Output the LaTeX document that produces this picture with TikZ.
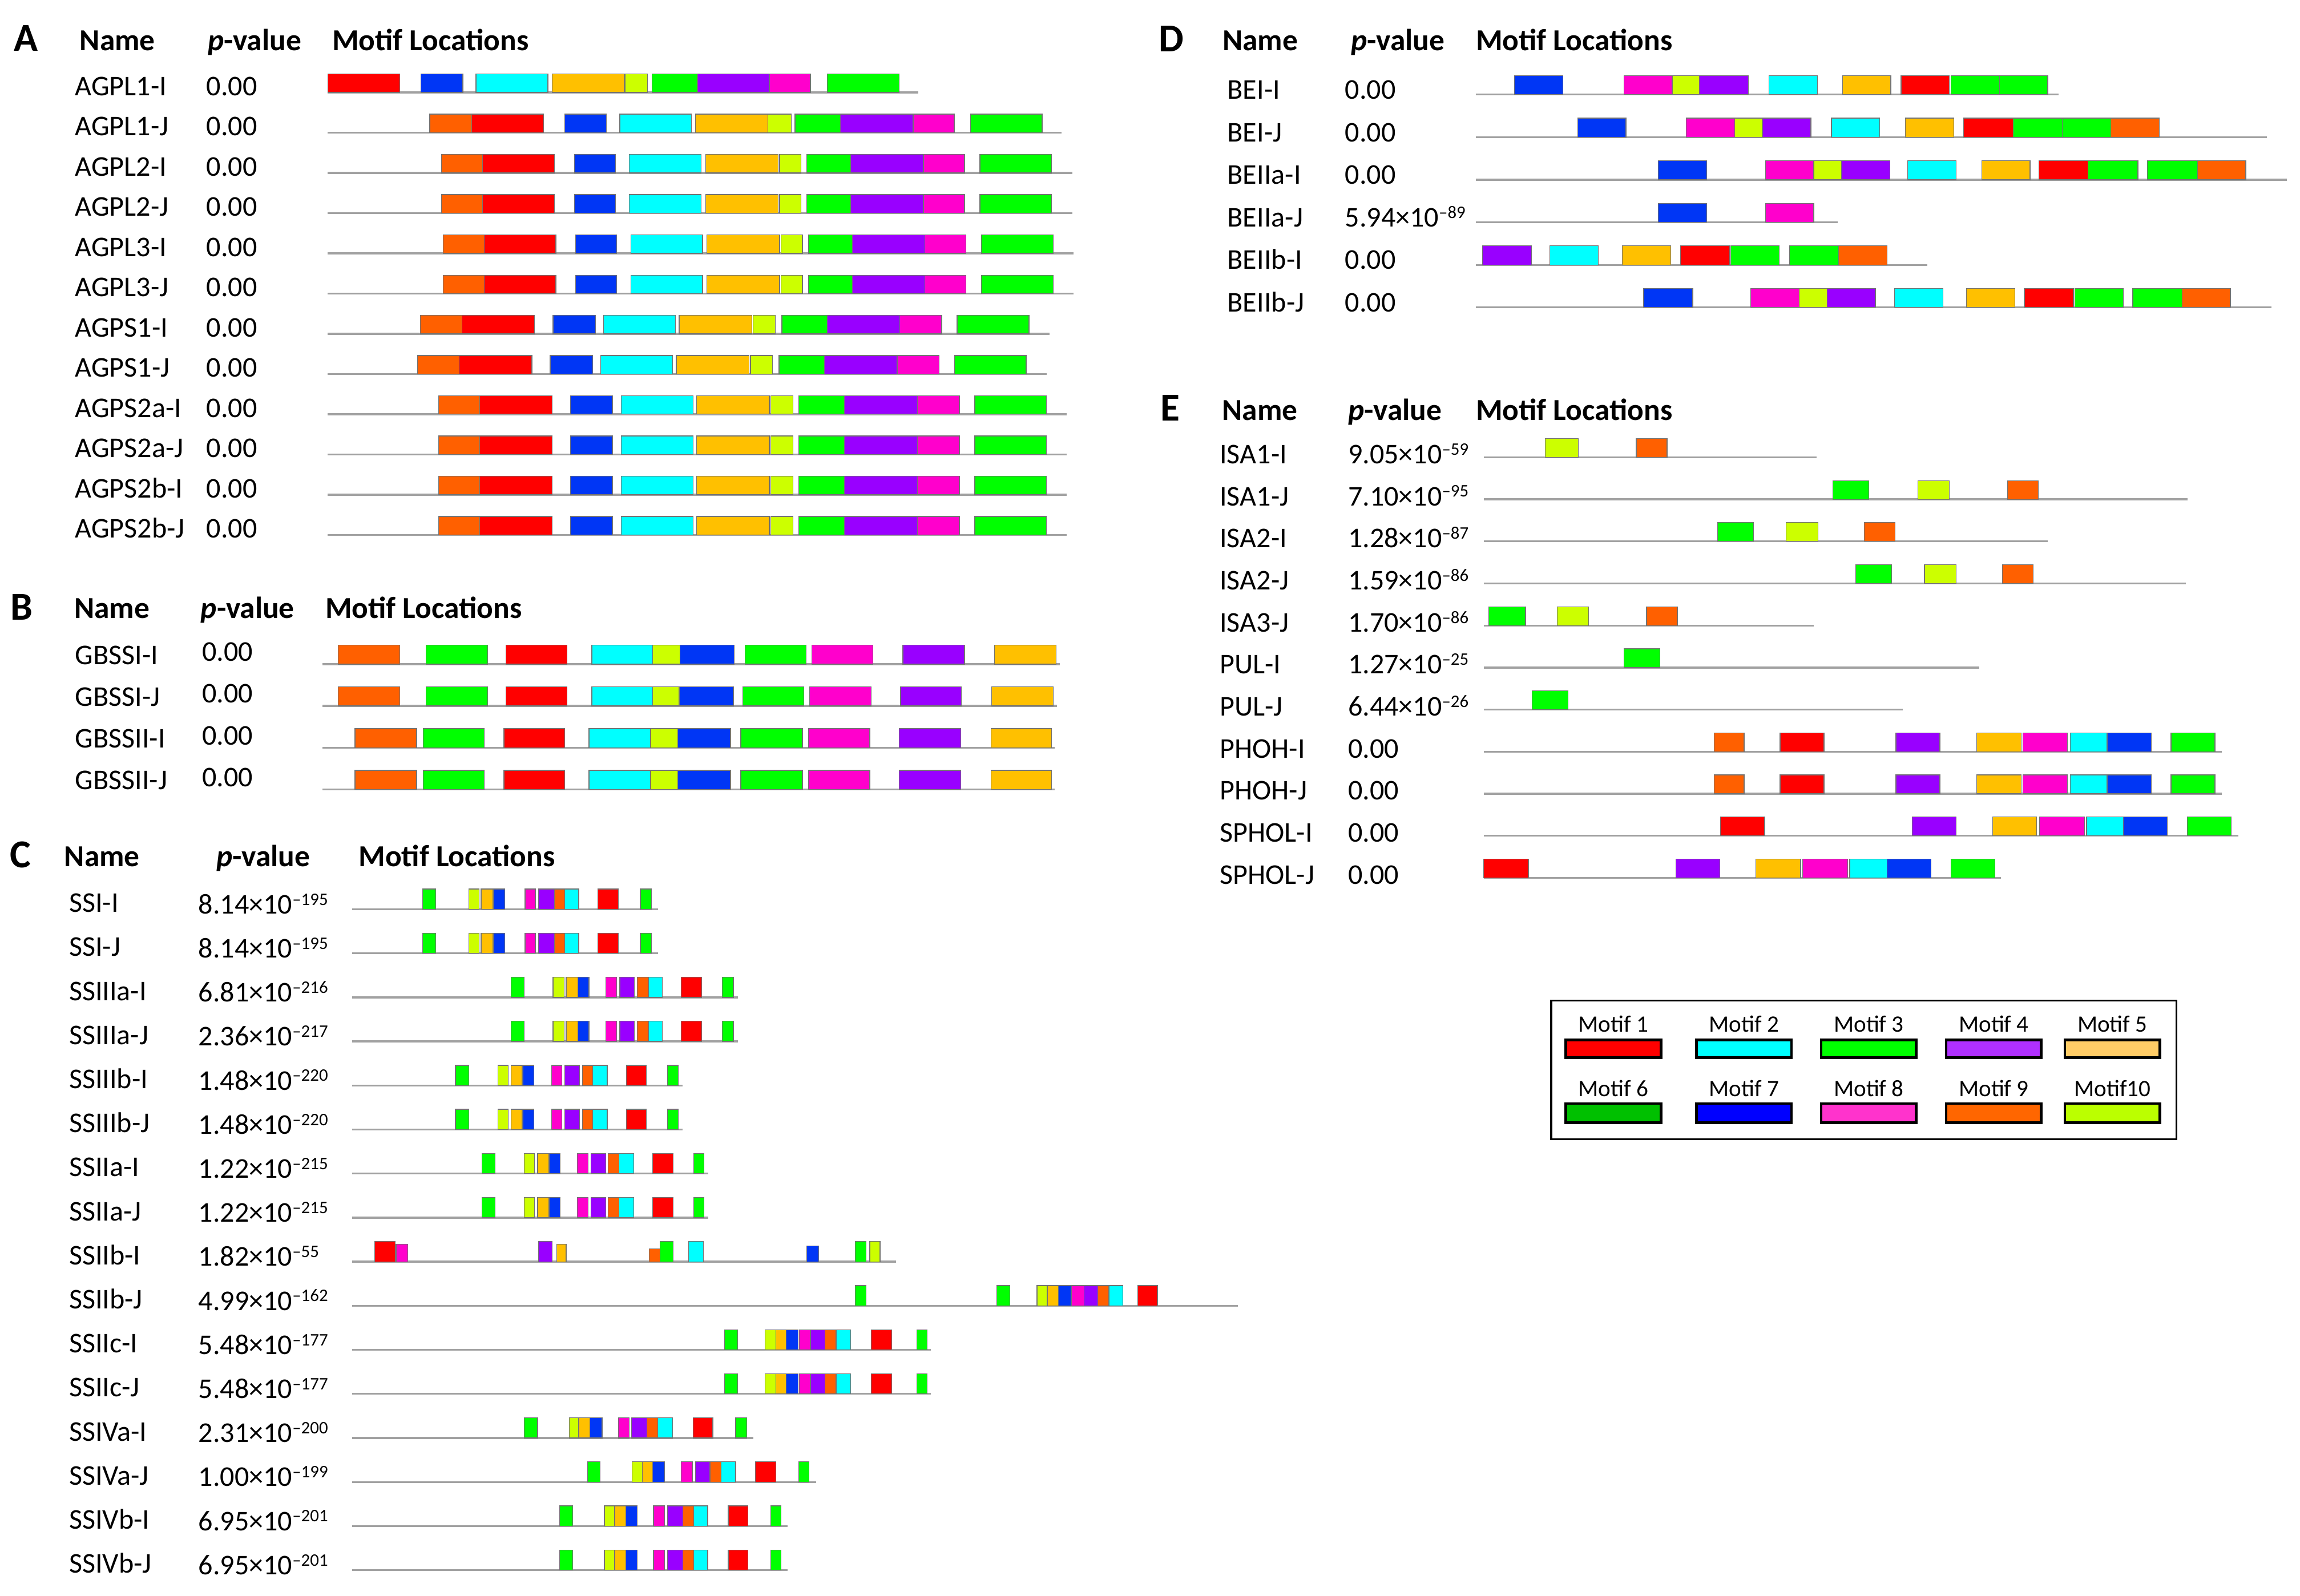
\documentclass[tikz,border=0pt]{standalone}
\usepackage{fontspec}
\setmainfont{Carlito}
\usetikzlibrary{positioning}
% motif colours of the sequence blocks
\definecolor{b1}{HTML}{FF0000}
\definecolor{b2}{HTML}{00FFFF}
\definecolor{b3}{HTML}{00FF00}
\definecolor{b4}{HTML}{9900FF}
\definecolor{b5}{HTML}{FFC000}
\definecolor{b7}{HTML}{0036F5}
\definecolor{b8}{HTML}{FF00CC}
\definecolor{b9}{HTML}{FF6000}
\definecolor{b10}{HTML}{CCFF00}
% motif colours of the key
\definecolor{l1}{HTML}{FF0000}
\definecolor{l2}{HTML}{00FFFF}
\definecolor{l3}{HTML}{00FF00}
\definecolor{l4}{HTML}{B030FF}
\definecolor{l5}{HTML}{FFCC66}
\definecolor{l6}{HTML}{00C000}
\definecolor{l7}{HTML}{0000FF}
\definecolor{l8}{HTML}{FF33CC}
\definecolor{l9}{HTML}{FF6600}
\definecolor{l10}{HTML}{BBFF00}
\newcommand{\tenpow}[2]{#1×10\raisebox{5.9pt}{\fontsize{12}{12}\selectfont –#2}}

\begin{document}
\begin{tikzpicture}[x=1pt,y=-1pt,
  lab/.style={anchor=base west,inner sep=0pt,font=\fontsize{19.5}{22}\selectfont},
  head/.style={anchor=base west,inner sep=0pt,font=\fontsize{20.8}{24}\selectfont\bfseries},
  panel/.style={anchor=base west,inner sep=0pt,font=\fontsize{27}{30}\selectfont\bfseries},
  keylab/.style={anchor=base,inner sep=0pt,font=\fontsize{16}{18}\selectfont},
  seq/.style={draw=black!37,line width=1.3pt},
  blk/.style={fill=#1,draw=black!55,line width=0.5pt},
  swatch/.style={fill=#1,draw=black,line width=1.8pt}]
\useasboundingbox (0,0) rectangle (1568,1088);

% ---------------- panel A
\node[panel] (hA) at (9.4,35) {A};
\node[head] (nmA) at (54.2,34.4) {Name};
\node[head] (pvA) at (141.5,34.4) {\textit{p}-value};
\node[head] (mlA) at (226.3,34.4) {Motif Locations};
\foreach \n [count=\i] in {AGPL1-I,AGPL1-J,AGPL2-I,AGPL2-J,AGPL3-I,AGPL3-J,AGPS1-I,AGPS1-J,AGPS2a-I,AGPS2a-J,AGPS2b-I,AGPS2b-J}{
  \node[lab] (nA\i) at (51,{65+27.43*(\i-1)}) {\n};
  \node[lab] (pA\i) at (140.5,{65+27.43*(\i-1)}) {0.00};
}
% AGPL1-I
\draw[seq] (223.5,63) -- (626,63);
\foreach \m/\a/\b in {b1/223.5/272.5,b7/287/315.5,b2/324.5/373.5,b5/376.5/425.5,b10/426/441.5,b3/444.5/475.5,b4/475.5/524.5,b8/524.5/552.5,b3/564/613}
  \path[blk=\m] (\a,63) rectangle (\b,50.4);
% AGPL1-J
\draw[seq] (223.5,90.4) -- (723.5,90.4);
\foreach \m/\a/\b in {b9/293/321.5,b1/321.5/370.5,b7/385/413.5,b2/422.5/471.5,b5/474/523.5,b10/523.5/539.5,b3/542/573,b4/573/622.5,b8/622.5/650.5,b3/661.5/710.5}
  \path[blk=\m] (\a,90.4) rectangle (\b,77.8);
% AGPL2-I/J, AGPL3-I/J
\foreach \y/\s in {117.9/0,145.3/0,172.7/1,200.2/1}{
  \draw[seq] (223.5,\y) -- (731+\s,\y);
  \foreach \m/\a/\b in {b9/301/329,b1/329/378,b7/391.5/419.5,b2/429/478,b5/481/530.5,b10/531.5/546,b3/550/580,b4/580/629.5,b8/629.5/657.5,b3/668/717}
    \path[blk=\m] (\a+\s,\y) rectangle (\b+\s,\y-12.6);
}
% AGPS1-I/J
\foreach \y/\s in {227.6/0,255/-1.9}{
  \draw[seq] (223.5,\y) -- (715.5+\s,\y);
  \foreach \m/\a/\b in {b9/286.5/315,b1/315/364.5,b7/377/406,b2/411.5/460.5,b5/463/512.5,b10/513.5/528.5,b3/533/564,b4/564/613.5,b8/613.5/642,b3/652.5/701.5}
    \path[blk=\m] (\a+\s,\y) rectangle (\b+\s,\y-12.6);
}
% AGPS2a, AGPS2b
\foreach \y in {282.4,309.9,337.3,364.7}{
  \draw[seq] (223.5,\y) -- (727,\y);
  \foreach \m/\a/\b in {b9/299/327,b1/327/376.5,b7/389/417.5,b2/423.5/472.5,b5/475/524.5,b10/525.5/540.5,b3/544.5/575.5,b4/575.5/625.5,b8/625.5/654,b3/664.5/713.5}
    \path[blk=\m] (\a,\y) rectangle (\b,\y-12.6);
}

% ---------------- panel B
\node[panel] (hB) at (7,422.8) {B};
\node[head] (nmB) at (50.5,421.5) {Name};
\node[head] (pvB) at (136.7,421.5) {\textit{p}-value};
\node[head] (mlB) at (221.6,421.5) {Motif Locations};
\foreach \n [count=\i] in {GBSSI-I,GBSSI-J,GBSSII-I,GBSSII-J}{
  \node[lab] (nB\i) at (51,{452.9+28.43*(\i-1)}) {\n};
  \node[lab] (pB\i) at (137.7,{450.9+28.43*(\i-1)}) {0.00};
}
% GBSSI-I
\draw[seq] (219.7,452.9) -- (722.5,452.9);
\foreach \m/\a/\b in {b9/230.5/272.5,b3/290.5/332.5,b1/345/386.5,b2/403.5/445,b10/445/463.5,b7/463.5/500.5,b3/508/549.5,b8/553.5/595,b4/615.5/657.5,b5/678/720}
  \path[blk=\m] (\a,452.9) rectangle (\b,439.9);
% GBSSI-J
\draw[seq] (219.7,481.3) -- (720.5,481.3);
\foreach \m/\a/\b in {b9/230.5/272.5,b3/290.5/332.5,b1/345/386.5,b2/403.5/445,b10/445/463,b7/463/500,b3/506.5/548,b8/552/594,b4/614/655.5,b5/676/718}
  \path[blk=\m] (\a,481.3) rectangle (\b,468.3);
% GBSSII-I/J
\foreach \y in {509.8,538.2}{
  \draw[seq] (219.7,\y) -- (719,\y);
  \foreach \m/\a/\b in {b9/242/284,b3/288.5/330,b1/343.5/385,b2/401.5/443.5,b10/443.5/462,b7/462/498,b3/505/547,b8/551/593,b4/613/655,b5/675.5/717}
    \path[blk=\m] (\a,\y) rectangle (\b,\y-13);
}

% ---------------- panel C
\node[panel] (hC) at (6.8,591.7) {C};
\node[head] (nmC) at (43.7,591) {Name};
\node[head] (pvC) at (147.4,591) {\textit{p}-value};
\node[head] (mlC) at (244.3,591) {Motif Locations};
\foreach \n/\p [count=\i] in {SSI-I/\tenpow{8.14}{195},SSI-J/\tenpow{8.14}{195},SSIIIa-I/\tenpow{6.81}{216},SSIIIa-J/\tenpow{2.36}{217},
  SSIIIb-I/\tenpow{1.48}{220},SSIIIb-J/\tenpow{1.48}{220},SSIIa-I/\tenpow{1.22}{215},SSIIa-J/\tenpow{1.22}{215},
  SSIIb-I/\tenpow{1.82}{55},SSIIb-J/\tenpow{4.99}{162},SSIIc-I/\tenpow{5.48}{177},SSIIc-J/\tenpow{5.48}{177},
  SSIVa-I/\tenpow{2.31}{200},SSIVa-J/\tenpow{1.00}{199},SSIVb-I/\tenpow{6.95}{201},SSIVb-J/\tenpow{6.95}{201}}{
  \node[lab] (nC\i) at (46.9,{622+30.04*(\i-1)}) {\n};
  \node[lab] (pC\i) at (135.1,{623+30.04*(\i-1)}) {\p};
}
% SSI-I/J
\foreach \y in {620,650}{
  \draw[seq] (240.2,\y) -- (448.5,\y);
  \foreach \m/\a/\b in {b3/288/297,b10/319.5/326.5,b5/328/336,b7/336.5/344,b8/358/365,b4/367/378,b9/378/385,b2/385/394.5,b1/407.5/421.5,b3/436.5/444}
    \path[blk=\m] (\a,\y) rectangle (\b,\y-13.8);
}
% SSIIIa-I/J
\foreach \y in {680.1,710.1}{
  \draw[seq] (240.2,\y) -- (503,\y);
  \foreach \m/\a/\b in {b3/348.5/357.5,b10/377/384.5,b5/386/394,b7/394/401.5,b8/413/420.5,b4/422.5/432.5,b9/434.5/442,b2/442/451.5,b1/464.5/478.5,b3/492.5/500}
    \path[blk=\m] (\a,\y) rectangle (\b,\y-13.8);
}
% SSIIIb-I/J
\foreach \y in {740.2,770.2}{
  \draw[seq] (240.2,\y) -- (465.5,\y);
  \foreach \m/\a/\b in {b3/310.5/319.5,b10/339.5/346.5,b5/348.5/356,b7/356.5/364,b8/376/383,b4/385/395,b9/397/404,b2/404/414,b1/427/440.5,b3/455/462.5}
    \path[blk=\m] (\a,\y) rectangle (\b,\y-13.8);
}
% SSIIa-I/J
\foreach \y in {800.2,830.3}{
  \draw[seq] (240.2,\y) -- (483,\y);
  \foreach \m/\a/\b in {b3/328.5/337.5,b10/357.5/364.5,b5/366.5/374,b7/374.5/382,b8/393.5/401,b4/403/413,b9/414.5/422,b2/422/432,b1/445/459,b3/473/480}
    \path[blk=\m] (\a,\y) rectangle (\b,\y-13.8);
}
% SSIIb-I, blocks of unequal height
\draw[seq] (240.2,860.3) -- (611,860.3);
\foreach \m/\a/\b/\h in {b1/255.5/269.5/13.8,b8/270/278/12,b4/367/376.5/13.8,b5/379.5/386/12,b9/442.5/450/8.7,b3/450/459/13.8,b2/469.5/479.5/13.8,b7/550/558/10.7,b3/583/590.5/13.8,b10/593/600/13.8}
  \path[blk=\m] (\a,860.3) rectangle (\b,860.3-\h);
% SSIIb-J
\draw[seq] (240.2,890.4) -- (844,890.4);
\foreach \m/\a/\b in {b3/583/590.5,b3/679.5/688.5,b10/707/714,b5/714/721.5,b7/721.5/730,b8/730.5/739,b4/739/748.5,b9/748.5/756,b2/756/765.5,b1/775.5/789}
  \path[blk=\m] (\a,890.4) rectangle (\b,876.6);
% SSIIc-I/J
\foreach \y in {920.4,950.4}{
  \draw[seq] (240.2,\y) -- (634.5,\y);
  \foreach \m/\a/\b in {b3/494/503,b10/521.5/529,b5/529/536,b7/536/544,b8/545/552.5,b4/552.5/562.5,b9/562.5/570,b2/570/580,b1/594/608,b3/625/632}
    \path[blk=\m] (\a,\y) rectangle (\b,\y-13.8);
}
% SSIVa-I
\draw[seq] (240.2,980.5) -- (513.5,980.5);
\foreach \m/\a/\b in {b3/357.5/366.5,b10/388/394.5,b5/394.5/402,b7/402/410.5,b8/421.5/429,b4/430.5/441,b9/441/448.5,b2/448.5/458.5,b1/472.5/486,b3/501.5/509}
  \path[blk=\m] (\a,980.5) rectangle (\b,966.7);
% SSIVa-J
\draw[seq] (240.2,1010.5) -- (556.5,1010.5);
\foreach \m/\a/\b in {b3/400.5/409,b10/431/438,b5/438/445,b7/445/453,b8/464.5/472,b4/474/484,b9/484/491.5,b2/491.5/501.5,b1/515/529,b3/544.5/551.5}
  \path[blk=\m] (\a,1010.5) rectangle (\b,996.7);
% SSIVb-I/J
\foreach \y in {1040.6,1070.6}{
  \draw[seq] (240.2,\y) -- (537,\y);
  \foreach \m/\a/\b in {b3/381.5/390.5,b10/412/419,b5/419/426.5,b7/426.5/434.5,b8/445.5/453,b4/455/465.5,b9/465.5/473,b2/473/482.5,b1/496.5/510,b3/525.5/532.5}
    \path[blk=\m] (\a,\y) rectangle (\b,\y-13.8);
}

% ---------------- panel D
\node[panel] (hD) at (790,35.3) {D};
\node[head] (nmD) at (833.3,34.5) {Name};
\node[head] (pvD) at (920.9,34.5) {\textit{p}-value};
\node[head] (mlD) at (1006,34.5) {Motif Locations};
\foreach \n/\p [count=\i] in {BEI-I/0.00,BEI-J/0.00,BEIIa-I/0.00,BEIIa-J/\tenpow{5.94}{89},BEIIb-I/0.00,BEIIb-J/0.00}{
  \node[lab] (nD\i) at (836.6,{67.5+29.02*(\i-1)}) {\n};
  \node[lab] (pD\i) at (916.7,{67.5+29.02*(\i-1)}) {\p};
}
% BEI-I
\draw[seq] (1006.2,64.5) -- (1403.5,64.5);
\foreach \m/\a/\b in {b7/1032.5/1065.5,b8/1107/1140,b10/1140/1158.5,b4/1158.5/1192,b2/1206/1239,b5/1256/1289,b1/1296/1329,b3/1330/1363,b3/1363/1396}
  \path[blk=\m] (\a,64.5) rectangle (\b,51.5);
% BEI-J
\draw[seq] (1006.2,93.5) -- (1545.5,93.5);
\foreach \m/\a/\b in {b7/1075.5/1108.5,b8/1149.5/1182.5,b10/1182.5/1201.5,b4/1201.5/1234.5,b2/1248.5/1281.5,b5/1299/1332,b1/1338.5/1372.5,b3/1372.5/1406,b3/1406/1439,b9/1439/1472}
  \path[blk=\m] (\a,93.5) rectangle (\b,80.5);
% BEIIa-I
\draw[seq] (1006.2,122.5) -- (1559,122.5);
\foreach \m/\a/\b in {b7/1130.5/1163.5,b8/1203.5/1236.5,b10/1236.5/1255.5,b4/1255.5/1288.5,b2/1300.5/1333.5,b5/1351/1384,b1/1390/1423.5,b3/1423.5/1457.5,b3/1464/1498,b9/1498/1531}
  \path[blk=\m] (\a,122.5) rectangle (\b,109.5);
% BEIIa-J
\draw[seq] (1006.2,151.6) -- (1253,151.6);
\foreach \m/\a/\b in {b7/1130.5/1163.5,b8/1203.5/1236.5}
  \path[blk=\m] (\a,151.6) rectangle (\b,138.6);
% BEIIb-I
\draw[seq] (1006.2,180.6) -- (1314,180.6);
\foreach \m/\a/\b in {b4/1010.5/1044,b2/1056.5/1089.5,b5/1106/1139,b1/1145.5/1179,b3/1180/1213,b3/1220/1253.5,b9/1253.5/1286.5}
  \path[blk=\m] (\a,180.6) rectangle (\b,167.6);
% BEIIb-J
\draw[seq] (1006.2,209.6) -- (1548.5,209.6);
\foreach \m/\a/\b in {b7/1120.5/1154,b8/1193.5/1226.5,b10/1226.5/1245.5,b4/1245.5/1278.5,b2/1291.5/1324.5,b5/1340.5/1373.5,b1/1380/1413.5,b3/1414.5/1447.5,b3/1454/1487.5,b9/1487.5/1520.5}
  \path[blk=\m] (\a,209.6) rectangle (\b,196.6);

% ---------------- panel E
\node[panel] (hE) at (791,287) {E};
\node[head] (nmE) at (833,286.5) {Name};
\node[head] (pvE) at (919,286.5) {\textit{p}-value};
\node[head] (mlE) at (1006,286.5) {Motif Locations};
\foreach \n/\p [count=\i] in {ISA1-I/\tenpow{9.05}{59},ISA1-J/\tenpow{7.10}{95},ISA2-I/\tenpow{1.28}{87},ISA2-J/\tenpow{1.59}{86},
  ISA3-J/\tenpow{1.70}{86},PUL-I/\tenpow{1.27}{25},PUL-J/\tenpow{6.44}{26},PHOH-I/0.00,PHOH-J/0.00,SPHOL-I/0.00,SPHOL-J/0.00}{
  \node[lab] (nE\i) at (831.4,{316.1+28.67*(\i-1)}) {\n};
  \node[lab] (pE\i) at (918.8,{316.1+28.67*(\i-1)}) {\p};
}
% ISA and PUL rows
\foreach \y/\e/\list in {311.8/1238.5/{b10/1053.5/1076,b9/1115.5/1136.5},
    340.5/1491.5/{b3/1249.5/1274,b10/1307.5/1329,b9/1368.5/1389.5},
    369.1/1396/{b3/1171/1195.5,b10/1217.5/1239.5,b9/1271/1292},
    397.8/1490/{b3/1265/1289.5,b10/1312/1333.5,b9/1365/1386},
    426.5/1236.5/{b3/1015/1040,b10/1061.5/1083,b9/1122.5/1143.5},
    455.2/1349.5/{b3/1107/1131.5},
    483.8/1297/{b3/1044.5/1069}}{
  \draw[seq] (1011.5,\y) -- (\e,\y);
  \foreach \m/\a/\b in \list
    \path[blk=\m] (\a,\y) rectangle (\b,\y-12.8);
}
% PHOH-I/J
\foreach \y in {512.5,541.2}{
  \draw[seq] (1011.5,\y) -- (1514.5,\y);
  \foreach \m/\a/\b in {b9/1168.5/1189,b1/1213.5/1243.5,b4/1292.5/1322.5,b5/1347.5/1378,b8/1379/1409.5,b2/1411.5/1436.5,b7/1436.5/1466.5,b3/1480/1510}
    \path[blk=\m] (\a,\y) rectangle (\b,\y-12.8);
}
% SPHOL-I
\draw[seq] (1011.5,569.8) -- (1526,569.8);
\foreach \m/\a/\b in {b1/1173/1203,b4/1303.5/1333.5,b5/1358.5/1388.5,b8/1390.5/1421,b2/1422.5/1447.5,b7/1447.5/1477.5,b3/1491/1521}
  \path[blk=\m] (\a,569.8) rectangle (\b,557);
% SPHOL-J
\draw[seq] (1011.5,598.5) -- (1364,598.5);
\foreach \m/\a/\b in {b1/1011.5/1042,b4/1142.5/1172.5,b5/1197/1227.5,b8/1229/1259.5,b2/1261/1286.5,b7/1286.5/1316.5,b3/1330/1360}
  \path[blk=\m] (\a,598.5) rectangle (\b,585.7);

% ---------------- key
\draw[line width=1.2pt] (1057.5,682.2) rectangle (1483.7,776.9);
\foreach \c/\x/\t [count=\i] in {l1/1099.9/Motif 1,l2/1188.9/Motif 2,l3/1274/Motif 3,l4/1359.2/Motif 4,l5/1440.1/Motif 5}{
  \node[keylab] (key\i) at (\x,703.6) {\t};
  \path[swatch=\c] (\x-32.4,709) rectangle (\x+32.4,721.2);
}
\foreach \c/\x/\t [count=\i from 6] in {l6/1099.9/Motif 6,l7/1188.9/Motif 7,l8/1274/Motif 8,l9/1359.2/Motif 9,l10/1440.1/Motif10}{
  \node[keylab] (key\i) at (\x,747.7) {\t};
  \path[swatch=\c] (\x-32.4,752.5) rectangle (\x+32.4,765.6);
}
\end{tikzpicture}
\end{document}
